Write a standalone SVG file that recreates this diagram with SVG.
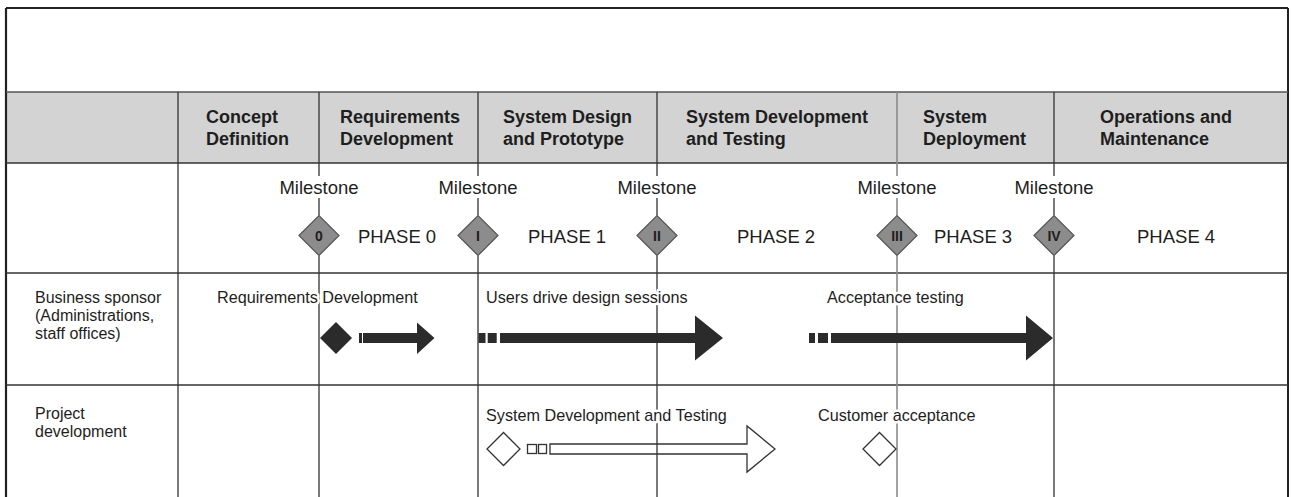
<svg xmlns="http://www.w3.org/2000/svg" width="1291" height="497" viewBox="0 0 1291 497">
<style>
.t{font-family:"Liberation Sans",Arial,Helvetica,sans-serif;fill:#1e1e1e}
.hdr{font-weight:bold;font-size:18px}
.ms{font-size:18.5px}
.ph{font-size:18.5px}
.row{font-size:16px}
.act{font-size:16.2px}
.num{font-weight:bold;font-size:14px;text-anchor:middle}
.halo{paint-order:stroke;stroke:#fff;stroke-width:5px;stroke-linejoin:round}
.grid{stroke:#333;stroke-width:1.3;fill:none}
.gridg{stroke:#8a8a8a;stroke-width:1.6;fill:none}
.mdia{fill:#8c8c8c;stroke:#555;stroke-width:1.2}
.solid{fill:#2b2b2b}
.open{fill:none;stroke:#333;stroke-width:1.3}
</style>

<g id="frame">
  <rect x="6" y="92" width="1282" height="71" fill="#d3d3d3"/>
  <line x1="6" y1="8" x2="1288" y2="8" stroke="#222" stroke-width="2.2"/>
  <line x1="6" y1="8" x2="6" y2="497" stroke="#222" stroke-width="2.2"/>
  <line x1="1288" y1="8" x2="1288" y2="497" stroke="#222" stroke-width="2"/>
  <line x1="6" y1="92" x2="1288" y2="92" stroke="#555" stroke-width="1.6"/>
  <line class="grid" x1="6" y1="163" x2="1288" y2="163"/>
  <line class="grid" x1="6" y1="273" x2="1288" y2="273"/>
  <line class="grid" x1="6" y1="385" x2="1288" y2="385"/>
  <line class="grid" x1="178" y1="92" x2="178" y2="497"/>
  <path class="grid" d="M319,92V176M319,198V215.5M319,255.5V497"/>
  <path class="grid" d="M478,92V176M478,198V215.5M478,255.5V497"/>
  <path class="grid" d="M657,92V176M657,198V215.5M657,255.5V497"/>
  <path class="gridg" d="M897,92V176M897,198V215.5M897,255.5V497"/>
  <path class="grid" d="M1054,92V176M1054,198V215.5M1054,255.5V497"/>
</g>

<g id="header">
  <text class="t hdr" x="206" y="123">Concept</text>
  <text class="t hdr" x="206" y="145">Definition</text>
  <text class="t hdr" x="340" y="123">Requirements</text>
  <text class="t hdr" x="340" y="145">Development</text>
  <text class="t hdr" x="503" y="123">System Design</text>
  <text class="t hdr" x="503" y="145">and Prototype</text>
  <text class="t hdr" x="686" y="123">System Development</text>
  <text class="t hdr" x="686" y="145">and Testing</text>
  <text class="t hdr" x="923" y="123">System</text>
  <text class="t hdr" x="923" y="145">Deployment</text>
  <text class="t hdr" x="1100" y="123">Operations and</text>
  <text class="t hdr" x="1100" y="145">Maintenance</text>
</g>

<g id="row-labels">
  <text class="t row" x="35" y="303">Business sponsor</text>
  <text class="t row" x="35" y="321">(Administrations,</text>
  <text class="t row" x="35" y="339">staff offices)</text>
  <text class="t row" x="35" y="419">Project</text>
  <text class="t row" x="35" y="437">development</text>
</g>

<g id="milestone-0">
  <text class="t ms" x="319" y="194" text-anchor="middle">Milestone</text>
  <path class="mdia" d="M299,235.5L319,215.5L339,235.5L319,255.5Z"/>
  <text class="t num" x="319" y="240.5">0</text>
</g>
<g id="milestone-1">
  <text class="t ms" x="478" y="194" text-anchor="middle">Milestone</text>
  <path class="mdia" d="M458,235.5L478,215.5L498,235.5L478,255.5Z"/>
  <text class="t num" x="478" y="240.5">I</text>
</g>
<g id="milestone-2">
  <text class="t ms" x="657" y="194" text-anchor="middle">Milestone</text>
  <path class="mdia" d="M637,235.5L657,215.5L677,235.5L657,255.5Z"/>
  <text class="t num" x="657" y="240.5">II</text>
</g>
<g id="milestone-3">
  <text class="t ms" x="897" y="194" text-anchor="middle">Milestone</text>
  <path class="mdia" d="M877,235.5L897,215.5L917,235.5L897,255.5Z"/>
  <text class="t num" x="897" y="240.5">III</text>
</g>
<g id="milestone-4">
  <text class="t ms" x="1054" y="194" text-anchor="middle">Milestone</text>
  <path class="mdia" d="M1034,235.5L1054,215.5L1074,235.5L1054,255.5Z"/>
  <text class="t num" x="1054" y="240.5">IV</text>
</g>

<g id="phases">
  <text class="t ph" x="358" y="243">PHASE 0</text>
  <text class="t ph" x="528" y="243">PHASE 1</text>
  <text class="t ph" x="737" y="243">PHASE 2</text>
  <text class="t ph" x="934" y="243">PHASE 3</text>
  <text class="t ph" x="1137" y="243">PHASE 4</text>
</g>

<g id="activity-labels">
  <text class="t act halo" x="217" y="303">Requirements Development</text>
  <text class="t act halo" x="486" y="303">Users drive design sessions</text>
  <text class="t act halo" x="827" y="303">Acceptance testing</text>
  <text class="t act halo" x="486" y="421">System Development and Testing</text>
  <text class="t act halo" x="818" y="421">Customer acceptance</text>
</g>

<g id="sponsor-start">
  <path class="solid" d="M320,338L336,322L352,338L336,354Z"/>
</g>
<g id="project-start">
  <path class="open" d="M487,449L503.5,432.5L520,449L503.5,465.5Z" fill="#fff"/>
</g>
<g id="customer-acceptance">
  <path class="open" d="M863,449L879.5,432.5L896,449L879.5,465.5Z" fill="#fff"/>
</g>

<g id="connectors">
  <rect class="solid" x="359" y="333" width="3" height="10"/>
  <path class="solid" d="M363,333H417V322.5L434.5,338L417,354V343H363Z"/>
  <rect class="solid" x="478.5" y="333" width="7" height="10"/>
  <rect class="solid" x="487.7" y="333" width="9" height="10"/>
  <path class="solid" d="M500,333H695V315.5L723,338L695,360.5V343H500Z"/>
  <rect class="solid" x="809" y="333" width="6" height="10"/>
  <rect class="solid" x="818" y="333" width="10" height="10"/>
  <path class="solid" d="M831,333H1026V315.5L1053,338L1026,360.5V343H831Z"/>
  <rect class="open" x="527.5" y="444.5" width="9" height="9"/>
  <rect class="open" x="538.5" y="444.5" width="8" height="9"/>
  <path class="open" d="M550,444H747V426L775,449L747,472V454H550Z"/>
</g>
</svg>
